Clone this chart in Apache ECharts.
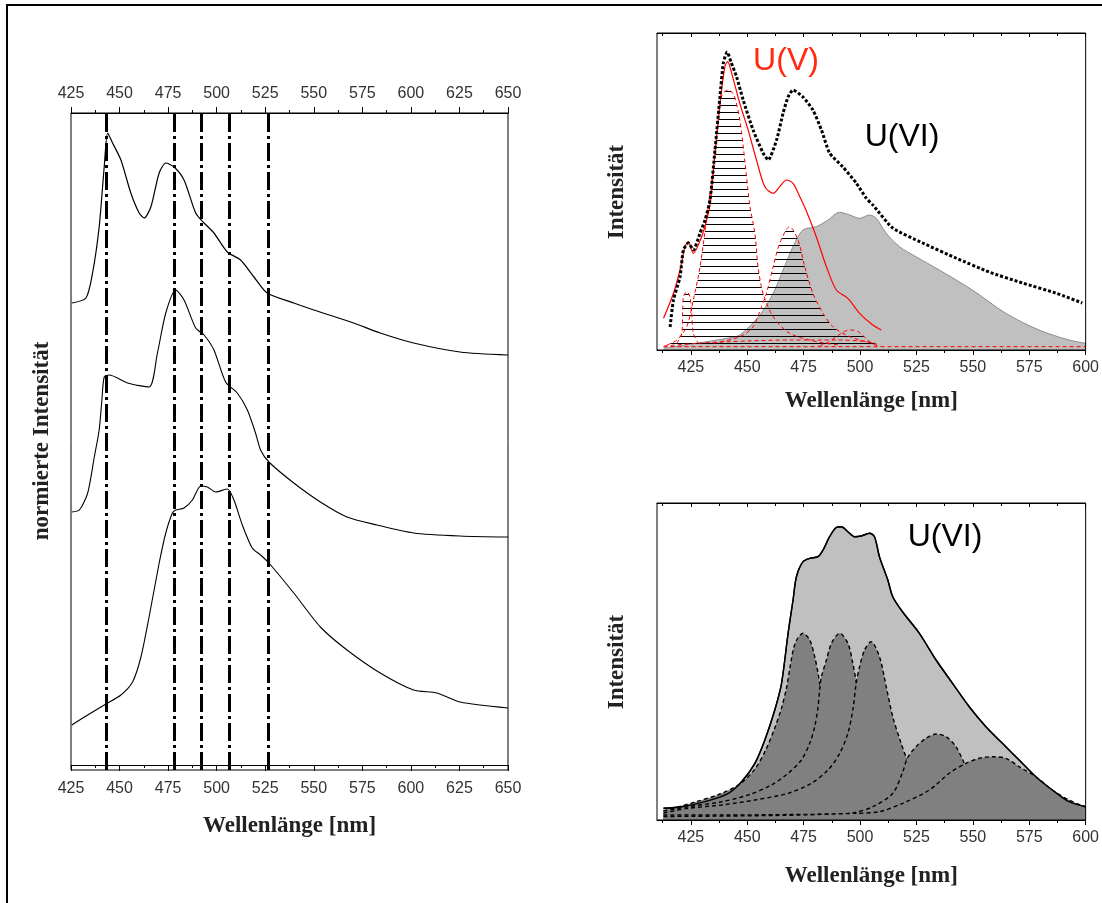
<!DOCTYPE html>
<html>
<head>
<meta charset="utf-8">
<script src="https://cdn.jsdelivr.net/npm/echarts@6/dist/echarts.min.js"></script>
<style>
html,body{margin:0;padding:0;background:#fff;}
#chart{width:1102px;height:903px;}
</style>
</head>
<body>
<div id="chart"></div>
<script>
// ---------- DATA ----------
// Left panel: three normalised spectra (wavelength nm, relative intensity, arbitrary units)
const spectrumTop = [[425.4,462],[432.7,467],[436.1,492],[439.5,538],[442.1,598],[443.9,632],[446.4,622],[450.7,605],[455.8,572],[460.1,552],[462.7,547],[466.1,558],[470.4,592],[473.8,602],[478.1,598],[483.2,585],[489.2,552],[493.5,542],[498.6,532],[505.5,513],[512.3,505],[519.2,488],[526,472],[539.7,462],[550,455],[570.5,442],[584.2,432],[601.4,422],[625.3,413],[650,410]];
const spectrumMid = [[425.4,253],[429.3,255],[433.6,272],[437,308],[439.5,335],[440.9,365],[442.1,388],[444.7,390],[454.1,382],[465.2,378],[469.5,412],[473.8,452],[478.9,475],[483.2,465],[489.2,437],[493.5,430],[498.6,415],[504.6,383],[510.6,372],[515.8,355],[520,332],[522.6,315],[526.9,303],[539.7,282],[553.4,263],[567.1,248],[582.6,240],[601.4,232],[625.3,229],[650,228]];
const spectrumBot = [[425.4,40],[433.6,50],[443,61],[450.7,70],[456.7,83],[461,108],[465.2,148],[470.4,202],[473.8,232],[477.2,252],[478.9,255],[483.2,257],[487.5,265],[491.8,279],[495.2,278],[499.5,273],[505.5,276],[508.9,265],[513.2,240],[518.3,217],[522.6,210],[526.9,202],[539.7,172],[553.4,138],[567.1,115],[584.2,92],[601.4,75],[613.4,72],[625.3,63],[650,57]];
const peakLines = [443, 478, 492, 506.5, 526.5];

// Top right panel: U(V)/U(VI) deconvolution
const measured = [[415.8,23],[417.3,50],[420.2,73],[421.7,100],[423.9,107],[426.1,100],[429.1,117],[431.3,130],[433.5,150],[435.7,200],[437.9,253],[439.4,287],[441.1,298],[442.8,288],[445.3,273],[448.2,250],[452.6,220],[457,197],[459.3,190],[463,210],[465.9,237],[468.1,253],[470.3,260],[474.7,253],[479.1,240],[482.9,220],[486.5,197],[492.4,183],[498.3,167],[502.7,152],[505.7,145],[514.5,122],[527.8,107],[542.5,92],[557.2,78],[572,67],[586.7,57],[598.5,47]];
const uviBand = [[412.9,2],[417.1,3.3],[432,8.3],[440.9,11.7],[446.7,15],[455.6,35],[461.5,56.7],[465.9,80],[470.3,103.3],[474.7,120],[480.6,123.3],[485.8,130],[490.9,137.7],[495.4,135],[499.8,131.7],[504.2,135],[507.2,131.7],[511.6,116.7],[517.5,103.3],[524.8,93.3],[535.1,80],[549.8,60],[564.6,36.7],[579.3,20],[592.6,10],[600,6.7]];
const uvTotal = [[412.9,31.7],[417.3,56.7],[420.2,80],[422.4,103.3],[423.9,108.3],[426.1,96.7],[429.8,113.3],[432,130],[433.5,145],[435.7,196.7],[437.9,246.7],[440.1,283.3],[441.3,288.3],[443.1,276.7],[446.7,246.7],[450.4,220],[454.1,190],[457.8,163.3],[461.5,156.7],[464.4,163.3],[467.4,170],[470.3,166.7],[473.3,153.3],[476.2,139],[480.6,113.3],[485.1,83.3],[489.5,60],[494.6,51.7],[499.8,36.7],[505.7,25],[509.4,20]];
const uvComp1 = [[418.8,6.7],[421,16.7],[421.4,40],[421.7,53.3],[423.2,58.3],[424.6,53.3],[425.4,36.7],[426.1,16.7],[428.3,6.7]];
const uvComp2 = [[414.4,5],[418.8,10],[423.2,23.3],[426.1,50],[429.1,83.3],[432,132],[434.9,180],[437.2,230],[438.8,255],[441.6,260],[444.1,255],[446.7,230],[448.9,190],[451.1,145],[453.4,116.7],[454.8,83.3],[457,56.7],[461.5,33.3],[468.8,16.7],[480.6,8.3],[490.9,5]];
const uvComp3 = [[435,6.7],[446.7,13.3],[452.6,23.3],[456.3,43.3],[458.5,56.7],[461.5,83.3],[464.4,106.7],[468.8,123.3],[472.5,110],[475.5,83.3],[479.1,56.7],[483.6,36.7],[488,23.3],[495.4,13.3],[505.7,6.7]];
const uvComp4 = [[482,4],[486,8],[490,14],[493,18.5],[496,20],[499,18.5],[502,13],[505,7],[508,4]];
const uvComp5 = [[413,4],[430,7],[450,9],[470,10],[490,10],[500,9],[506,7],[509,4]];
const uvBaseline = [[412.9,3.3],[600,3.3]];

// Bottom right panel: U(VI) band and its five components
const uviEnvelope = [[412.9,11.7],[421,13.3],[431.3,18.3],[441.6,26.7],[447.5,38.3],[453.4,56.7],[457.8,80],[462.2,110],[465.2,136.7],[468.1,186.7],[470.3,220],[471.8,243.3],[474.7,258.3],[477.7,261.7],[481.3,263.3],[483.6,270],[486.5,283.3],[489.5,292.7],[491.7,293.3],[494.6,288.3],[497.6,283.3],[500.5,284],[504.2,286.7],[506.4,283.3],[508.6,263.3],[512.3,240],[514.5,223.3],[518.9,208],[526.3,186.7],[533.7,160],[541,136.7],[548.4,113.3],[555.8,93.3],[563.1,76.7],[570.5,60],[577.9,43.3],[585.2,30],[592.6,18.3],[600,13.3]];
const uviPeak1 = [[412.9,9],[426.9,18],[437.9,26],[446.7,36],[453.4,51],[458.2,70],[462.2,92],[465.2,112],[467.4,132],[468.9,152],[470.6,172],[472.4,182],[474.7,186.7],[477.7,180],[479.9,163.3],[481.4,146.7],[482.1,136.7],[483.4,120],[485.6,90],[488.7,60],[493.1,35],[499.7,20],[508.6,12],[526.3,8],[560,6],[600,5]];
const uviPeak2 = [[412.9,9],[423.9,13.3],[438.7,18.3],[450.4,25],[460.8,35],[468.1,46.7],[474,60],[477.7,76.7],[479.9,93.3],[481.4,113.3],[482.1,130],[482.9,143.3],[485.1,160],[487.3,176.7],[491,186.7],[494.6,176.7],[496.8,156.7],[498.3,138.3],[500.7,110],[504.2,80],[508.6,50],[515.2,25],[526.3,12],[543.9,8],[600,5]];
const uviPeak3 = [[412.9,7],[423.9,11.7],[438.7,15],[453.4,20],[468.1,26.7],[478.4,36.7],[485.8,50],[491,66.7],[494.6,86.7],[496.8,110],[498.3,136.7],[499.8,153.3],[502,170],[504.9,178.3],[508.6,163.3],[511.6,133.3],[514.5,103.3],[518.2,76.7],[520.4,63],[524.1,45],[530.7,25],[543.9,12],[561.6,8],[600,5]];
const uviPeak4 = [[412.9,5],[440,5],[470,5.5],[490.9,6],[496.8,7],[505.7,13.3],[514.5,26.7],[518.9,48],[521,62],[524.8,73.3],[529.2,81.7],[533.7,86],[538.1,83.3],[542.5,73.3],[546.2,56.7],[550.6,35],[557.2,20],[570.5,10],[588.1,6],[600,5]];
const uviPeak5 = [[412.9,3.5],[461.5,4.5],[498.3,6.7],[508.6,8.3],[518.9,16.7],[530.7,30],[539.5,46.7],[547,56.7],[552.8,61.7],[558.7,63.3],[564.6,61.7],[570.5,53.3],[577.9,43.3],[585.2,30],[592.6,20],[600,13]];

// Tick values
const ticksRightMajor = [425,450,475,500,525,550,575,600];
const ticksRightMinor = [412.5,437.5,462.5,487.5,512.5,537.5,562.5,587.5];

// ---------- STYLES ----------
const tickFont = {fontFamily:'"Liberation Sans", Arial, sans-serif', fontSize:16, color:'#333'};
const titleFont = {fontFamily:'"Liberation Serif", "Times New Roman", serif', fontWeight:'bold', fontSize:23, color:'#222'};
const black = '#000';

function hatchPattern(){
  const c = document.createElement('canvas');
  c.width = 8; c.height = 7;
  const g = c.getContext('2d');
  g.fillStyle = '#000';
  g.fillRect(0, 0, 8, 1);
  return {image: c, repeat: 'repeat'};
}
const hatch = hatchPattern();

function leftAxis(position){
  return {
    gridIndex:0, type:'value', position, min:425, max:650, interval:25, z:20,
    axisLine:{lineStyle:{color:black, width:1}},
    axisTick:{length:6, lineStyle:{color:black}},
    minorTick:{show:true, splitNumber:2, length:3, lineStyle:{color:black}},
    axisLabel:Object.assign({margin:11}, tickFont),
    splitLine:{show:false}, minorSplitLine:{show:false},
    name: position==='bottom' ? 'Wellenlänge [nm]' : '',
    nameLocation:'middle', nameGap:45, nameTextStyle:titleFont
  };
}
function rightAxes(gridIndex, nameGap){
  const base = {gridIndex, type:'value', min:410, max:600, z:20, splitLine:{show:false}};
  return [
    Object.assign({}, base, {position:'bottom',
      axisLine:{lineStyle:{color:black}},
      axisTick:{customValues:ticksRightMajor, length:5, lineStyle:{color:black}},
      axisLabel:Object.assign({customValues:ticksRightMajor, margin:10}, tickFont),
      name:'Wellenlänge [nm]', nameLocation:'middle', nameGap, nameTextStyle:titleFont}),
    Object.assign({}, base, {position:'bottom', axisLine:{show:false},
      axisTick:{customValues:ticksRightMinor, length:3, lineStyle:{color:black}},
      axisLabel:{show:false}}),
    Object.assign({}, base, {position:'top', axisLine:{lineStyle:{color:black}},
      axisTick:{inside:true, customValues:ticksRightMajor, length:4, lineStyle:{color:black}},
      axisLabel:{show:false}}),
    Object.assign({}, base, {position:'top', axisLine:{show:false},
      axisTick:{inside:true, customValues:ticksRightMinor, length:3, lineStyle:{color:black}},
      axisLabel:{show:false}})
  ];
}
function hiddenY(gridIndex, min, max){
  return {gridIndex, type:'value', min, max, axisLine:{show:false}, axisTick:{show:false},
    axisLabel:{show:false}, splitLine:{show:false}};
}

const xAxes = [leftAxis('bottom'), leftAxis('top')].concat(rightAxes(1, 40), rightAxes(2, 45));

function line(data, xi, yi, style, extra){
  return Object.assign({type:'line', data, xAxisIndex:xi, yAxisIndex:yi, showSymbol:false,
    symbol:'none', smooth:0.3, lineStyle:style, silent:true}, extra || {});
}

const redDash = {color:'#ff0000', width:1, type:[4,3]};
const compDash = {color:'#000', width:1.4, type:[4,3]};
const darkFill = {color:'#808080', opacity:1};

const series = [
  // left panel
  line(spectrumTop, 0, 0, {color:black, width:1.2}, {smooth:0.25,
    markLine:{silent:true, symbol:['none','none'], label:{show:false},
      lineStyle:{color:black, width:3, type:[18,4,3,4]},
      data: peakLines.map(v => ({xAxis:v}))}}),
  line(spectrumMid, 0, 0, {color:black, width:1.1}, {smooth:0.25}),
  line(spectrumBot, 0, 0, {color:black, width:1.1}, {smooth:0.25}),
  // top right panel
  line(uviBand, 2, 1, {color:'#8c8c8c', width:1}, {areaStyle:{color:'#c0c0c0', opacity:1}, z:2}),
  line(uvComp5, 2, 1, redDash, {areaStyle:{color:hatch, opacity:1}, z:3}),
  line(uvComp3, 2, 1, redDash, {areaStyle:{color:hatch, opacity:1}, z:3}),
  line(uvComp4, 2, 1, redDash, {areaStyle:{color:hatch, opacity:1}, z:3}),
  line(uvComp2, 2, 1, redDash, {areaStyle:{color:hatch, opacity:1}, z:3}),
  line(uvComp1, 2, 1, redDash, {areaStyle:{color:hatch, opacity:1}, z:3}),
  line(uvBaseline, 2, 1, redDash, {smooth:false, z:3}),
  line(uvTotal, 2, 1, {color:'#ff0000', width:1.2}, {z:4}),
  line(measured, 2, 1, {color:'#000', width:3, type:[3,2]}, {z:5, smooth:0.2}),
  // bottom right panel (each component above the previous one)
  line(uviEnvelope, 6, 2, {color:black, width:1.4}, {areaStyle:{color:'#c0c0c0', opacity:1}, z:2}),
  line(uviPeak1, 6, 2, compDash, {areaStyle:darkFill, z:3}),
  line(uviPeak2, 6, 2, compDash, {areaStyle:darkFill, z:4}),
  line(uviPeak3, 6, 2, compDash, {areaStyle:darkFill, z:5}),
  line(uviPeak4, 6, 2, compDash, {areaStyle:darkFill, z:6}),
  line(uviPeak5, 6, 2, compDash, {areaStyle:darkFill, z:7}),
  line(uviEnvelope, 6, 2, {color:black, width:1.4}, {z:8})
];

const gridStyle = {show:true, borderColor:'#000', borderWidth:1, backgroundColor:'transparent', z:20};

const option = {
  animation:false,
  backgroundColor:'#fff',
  grid:[
    Object.assign({left:71, top:113, width:437, height:657}, gridStyle),
    Object.assign({left:657, top:33, width:430, height:317}, gridStyle),
    Object.assign({left:657, top:503, width:430, height:317}, gridStyle)
  ],
  xAxis: xAxes,
  yAxis: [hiddenY(0, -5, 652), hiddenY(1, 0, 317), hiddenY(2, 0, 317)],
  series,
  graphic:[
    {type:'rect', shape:{x:7, y:5, width:1200, height:1000}, style:{fill:'none', stroke:'#000', lineWidth:2}, silent:true, z:0},
    {type:'text', x:42, y:441, rotation:Math.PI/2, silent:true,
      style:{text:'normierte Intensität', font:'bold 23px "Liberation Serif", serif', fill:'#222', align:'center', verticalAlign:'middle'}},
    {type:'text', x:617, y:192, rotation:Math.PI/2, silent:true,
      style:{text:'Intensität', font:'bold 23px "Liberation Serif", serif', fill:'#222', align:'center', verticalAlign:'middle'}},
    {type:'text', x:617, y:662, rotation:Math.PI/2, silent:true,
      style:{text:'Intensität', font:'bold 23px "Liberation Serif", serif', fill:'#222', align:'center', verticalAlign:'middle'}},
    {type:'text', x:786, y:61, silent:true, z:30,
      style:{text:'U(V)', font:'32px "Liberation Sans", Arial, sans-serif', fill:'#ff2a10', align:'center', verticalAlign:'middle'}},
    {type:'text', x:902, y:137, silent:true, z:30,
      style:{text:'U(VI)', font:'32px "Liberation Sans", Arial, sans-serif', fill:'#000', align:'center', verticalAlign:'middle'}},
    {type:'text', x:945, y:537, silent:true, z:30,
      style:{text:'U(VI)', font:'32px "Liberation Sans", Arial, sans-serif', fill:'#000', align:'center', verticalAlign:'middle'}}
  ]
};

const chart = echarts.init(document.getElementById('chart'), null, {renderer:'canvas', width:1102, height:903});
chart.setOption(option);
</script>
</body>
</html>
